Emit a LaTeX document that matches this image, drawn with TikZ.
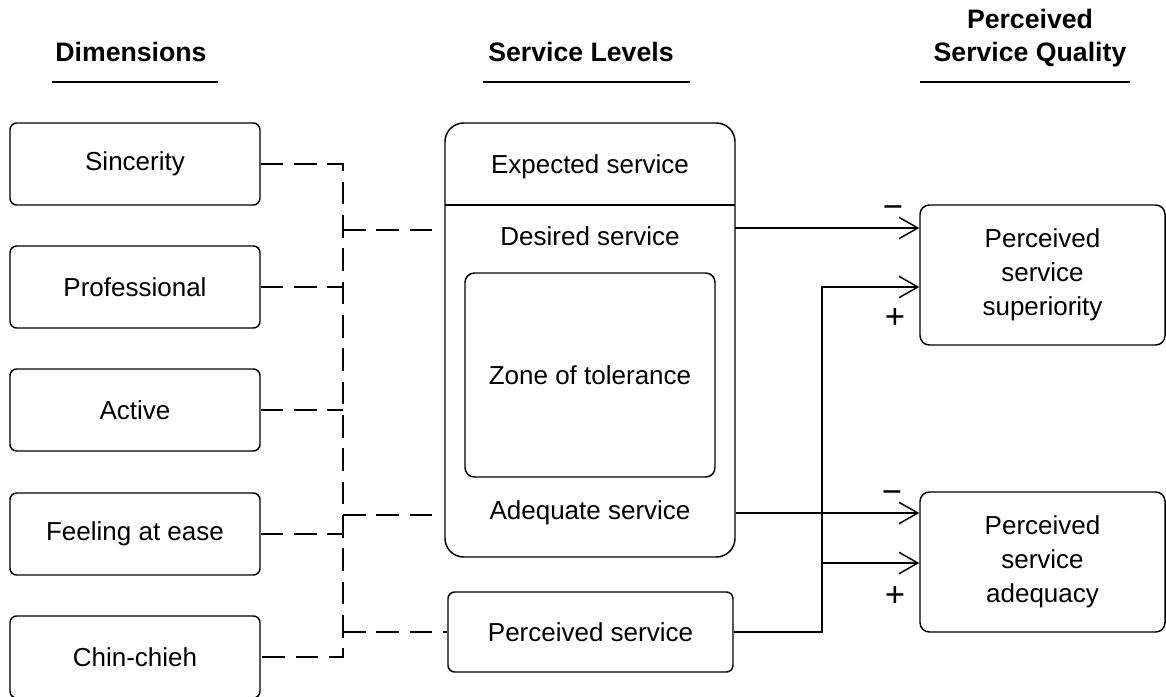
\documentclass[tikz,border=0pt]{standalone}
\usepackage{fontspec}
\setmainfont{Liberation Sans}
\usetikzlibrary{arrows.meta,positioning}

\begin{document}
\begin{tikzpicture}[x=0.75pt,y=-0.75pt,line width=1.1pt,
  txt/.style={font=\fontsize{19.5}{25.5}\selectfont},
  head/.style={font=\fontsize{20}{24.75}\selectfont\bfseries,align=center},
  dimbox/.style={txt,draw,rounded corners=5pt,minimum width=187.5pt,minimum height=61.5pt},
  qualbox/.style={txt,draw,rounded corners=7pt,minimum width=183.75pt,minimum height=105pt,align=center},
  dashline/.style={dash pattern=on 17pt off 8pt},
  arr/.style={-{Straight Barb[length=14pt,width=16pt]}},
  sign/.style={font=\fontsize{26}{26}\selectfont,inner sep=0pt}]

\useasboundingbox (0,0) rectangle (1166,696);

% headings
\node[head] (hdim) at (131,52) {Dimensions};
\node[head] (hlev) at (581,52) {Service Levels};
\node[head] (hqual) at (1030,38) {Perceived\\Service Quality};
\draw (52,82) -- (218,82);
\draw (483,82) -- (690,82);
\draw (920,82) -- (1130,82);

% dimensions
\node[dimbox] (sin) at (135,164) {Sincerity};
\node[dimbox] (pro) at (135,287) {Professional};
\node[dimbox] (act) at (135,410) {Active};
\node[dimbox] (fee) at (135,534) {Feeling at ease};
\node[dimbox] (chi) at (135,657) {Chin-chieh};

% service levels
\node[draw,rounded corners=14pt,minimum width=217.5pt,minimum height=325.5pt] (svc) at (590,340) {};
\draw (445,205) -- (735,205);
\node[txt] (exp) at (590,167) {Expected service};
\node[txt] (des) at (590,236) {Desired service};
\node[txt,draw,rounded corners=7pt,minimum width=187.5pt,minimum height=153pt] (zon) at (590,375) {Zone of tolerance};
\node[txt] (ade) at (590,513) {Adequate service};
\node[txt,draw,rounded corners=5pt,minimum width=213.75pt,minimum height=60pt] (per) at (590.5,632) {Perceived service};

% perceived service quality
\node[qualbox] (sup) at (1042.5,275) {Perceived\\service\\superiority};
\node[qualbox] (adq) at (1042.5,562) {Perceived\\service\\adequacy};

% dashed links
\coordinate (bus) at (343,164);
\coordinate (desin) at (432,230);
\coordinate (adein) at (432,515);
\draw[dashline] (sin.east) -- (bus) -- (bus |- chi.east) -- (chi.east);
\draw[dashline] (pro.east) -- (pro.east -| bus);
\draw[dashline] (act.east) -- (act.east -| bus);
\draw[dashline] (fee.east) -- (fee.east -| bus);
\draw[dashline] (bus |- desin) -- (desin);
\draw[dashline] (bus |- adein) -- (adein);
\draw[dashline] (bus |- per.west) -- (per.west);

% arrows
\coordinate (desout) at (735,228);
\coordinate (split) at (822,287);
\coordinate (split2) at (822,563);
\draw[arr] (desout) -- (desout -| sup.west);
\draw[arr] (per.east) -| (split) -- (split -| sup.west);
\draw[arr] (svc.east |- ade) -- (ade -| adq.west);
\draw[arr] (split2) -- (split2 -| adq.west);

% signs
\node[sign] (supm) at (893,212) {−};
\node[sign] (supp) at (895,318) {+};
\node[sign] (adqm) at (892,497) {−};
\node[sign] (adqp) at (895,596) {+};
\end{tikzpicture}
\end{document}
